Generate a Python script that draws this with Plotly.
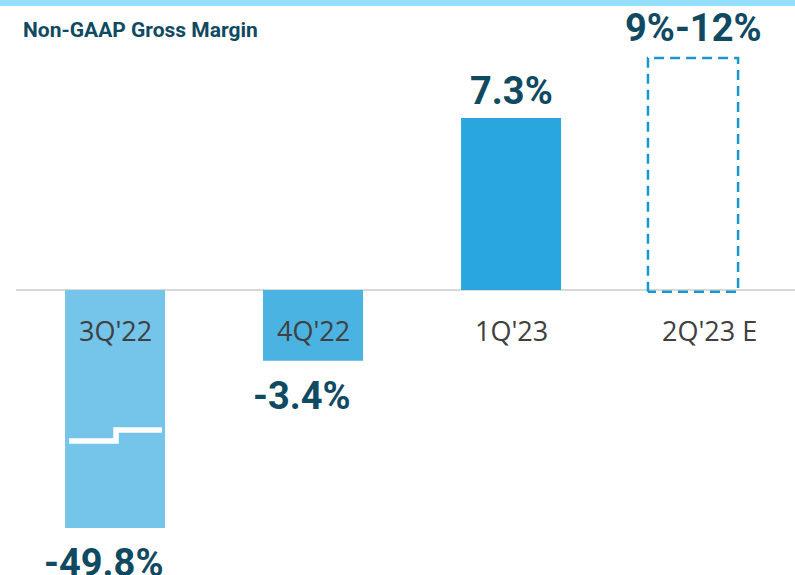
import plotly.graph_objects as go

# quarters and reported non-GAAP gross margin
quarters = ["3Q'22", "4Q'22", "1Q'23"]
margin_labels = ["-49.8%", "-3.4%", "7.3%"]
# bar heights as drawn (the 3Q'22 bar is cut by an axis break)
bar_heights = [-10.1, -3.0, 7.3]
bar_colors = ["#75C4E9", "#4BB3E1", "#29A6DE"]

# guidance quarter, drawn as a dashed outline
guide_quarter = "2Q'23 E"
guide_label = "9%-12%"
guide_height = 9.85

all_quarters = quarters + [guide_quarter]
pos = list(range(len(all_quarters)))

label_color = "#0F4A62"
bold_font = "Roboto"

fig = go.Figure()

fig.add_trace(go.Bar(x=pos[:3], y=bar_heights,
                     width=0.505,
                     marker_color=bar_colors,
                     marker_line_width=0,
                     hoverinfo="skip"))

# axis-break step on the 3Q'22 bar
brk_lo, brk_hi = -6.41, -5.94
fig.add_trace(go.Scatter(x=[pos[0] - 0.232, pos[0] + 0.005, pos[0] + 0.237],
                         y=[brk_lo, brk_hi, brk_hi],
                         mode="lines",
                         line=dict(color="white", width=5.5, shape="hv"),
                         hoverinfo="skip"))

# dashed guidance box
gx = pos[3] - 0.081
gw = 0.455 / 2
fig.add_trace(go.Scatter(x=[gx - gw, gx - gw, gx + gw, gx + gw, gx - gw],
                         y=[-0.08, guide_height, guide_height, -0.08, -0.08],
                         mode="lines",
                         line=dict(color="#1797CF", width=2.5, dash="10px,6px"),
                         hoverinfo="skip"))

annotations = []
for p, h, lab in zip(pos[:3], bar_heights, margin_labels):
    annotations.append(dict(x=p, y=h, text=lab, showarrow=False,
                            xref="x", yref="y", yanchor="middle",
                            yshift=27 if h > 0 else -35,
                            xshift=0 if h > 0 else -11,
                            font=dict(family=bold_font, size=38, color=label_color, weight="bold")))
annotations.append(dict(x=gx, y=guide_height, text=guide_label, showarrow=False,
                        xref="x", yref="y", yanchor="middle", yshift=30,
                        font=dict(family=bold_font, size=38, color=label_color, weight="bold")))

for p, q in zip(pos, all_quarters):
    annotations.append(dict(x=p, y=0, text=q, showarrow=False,
                            xref="x", yref="y", yanchor="middle", yshift=-41,
                            font=dict(family="Open Sans", size=27, color="#404040")))

annotations.append(dict(x=21 / 795, y=1 - 30 / 575, xref="paper", yref="paper",
                        text="Non-GAAP Gross Margin", showarrow=False,
                        xanchor="left", yanchor="middle",
                        font=dict(family=bold_font, size=21, color=label_color, weight="bold")))

shapes = [
    # baseline
    dict(type="line", xref="paper", yref="y", x0=16 / 795, x1=1, y0=0, y1=0,
         line=dict(color="#D9D9D9", width=2), layer="below"),
    # top band
    dict(type="rect", xref="paper", yref="paper", x0=0, x1=1, y0=1 - 6 / 575, y1=1,
         fillcolor="#94DFFF", line_width=0),
]

fig.update_layout(
    width=795, height=575,
    margin=dict(l=0, r=0, t=0, b=0),
    paper_bgcolor="white", plot_bgcolor="white",
    showlegend=False,
    xaxis=dict(range=[-0.581, 3.434], visible=False, fixedrange=True),
    yaxis=dict(range=[-12.10, 12.31], visible=False, fixedrange=True),
    annotations=annotations,
    shapes=shapes,
)

fig.write_html("out.html", config={"displayModeBar": False},
               post_script="document.body.style.margin='0';document.body.style.overflow='hidden';")
